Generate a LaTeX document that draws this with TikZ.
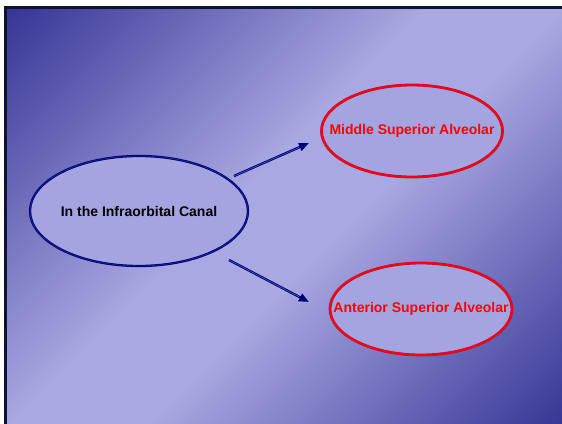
\documentclass[tikz,border=0pt]{standalone}
\usepackage{fontspec}
\setmainfont{Liberation Sans}
\usetikzlibrary{arrows.meta,shapes.geometric,calc}
\definecolor{bgdark}{RGB}{56,54,150}
\definecolor{bglight}{RGB}{168,168,226}
\definecolor{ellfill}{RGB}{164,164,224}
\definecolor{navyc}{RGB}{0,0,120}
\definecolor{redc}{RGB}{255,0,0}
\definecolor{redrim}{RGB}{180,20,80}
\definecolor{framec}{RGB}{16,16,48}
\pgfdeclarehorizontalshading{slidebg}{100bp}{color(0bp)=(bgdark); color(15bp)=(bgdark); color(45bp)=(bglight); color(55bp)=(bglight); color(85bp)=(bgdark); color(100bp)=(bgdark)}
\tikzset{
  ovalnavy/.style={ellipse, fill=ellfill, draw=navyc, line width=0.7pt, double=navyc!85!ellfill, double distance=0.9pt, inner sep=0pt, font=\fontsize{14}{16}\selectfont\bfseries, text=black},
  ovalred/.style={ellipse, fill=ellfill, draw=redrim, line width=0.5pt, double=redc, double distance=1.8pt, inner sep=0pt, font=\fontsize{14}{16}\selectfont\bfseries, text=redc},
  arrowline/.style={draw=navyc, line width=2.4pt, -{Triangle[length=10pt,width=8pt]}},
  arrowcore/.style={draw=navyc!45!bglight, line width=0.5pt}
}
\begin{document}
\begin{tikzpicture}[x=1pt,y=-1pt]
\useasboundingbox (0,0) rectangle (562,423);
\fill[white] (0,0) rectangle (562,423);
\begin{scope}
\clip (0,0) rectangle (562,423);
\fill[shading=slidebg, shading angle=-45] (5,7.5) rectangle (566,427);
\draw[line width=3pt, color=framec] (5,430) -- (5,7.5) -- (570,7.5);
\end{scope}
\node[ovalnavy, minimum width=218pt, minimum height=110pt] (canal) at (139,211) {\makebox[0pt]{In the Infraorbital Canal}};
\node[ovalred, minimum width=181pt, minimum height=92pt] (msa) at (412,131) {\makebox[0pt]{Middle Superior Alveolar}};
\node[ovalred, minimum width=182pt, minimum height=92pt] (asa) at (421,309) {\makebox[0pt]{Anterior Superior Alveolar}};
\coordinate (a1s) at (234,176);
\coordinate (a1e) at (309,143);
\coordinate (a2s) at (229,260);
\coordinate (a2e) at (309,302);
\draw[arrowline] (a1s) -- (a1e);
\draw[arrowline] (a2s) -- (a2e);
\draw[arrowcore] (a1s) -- ($(a1e)!11pt!(a1s)$);
\draw[arrowcore] (a2s) -- ($(a2e)!11pt!(a2s)$);
\end{tikzpicture}
\end{document}
